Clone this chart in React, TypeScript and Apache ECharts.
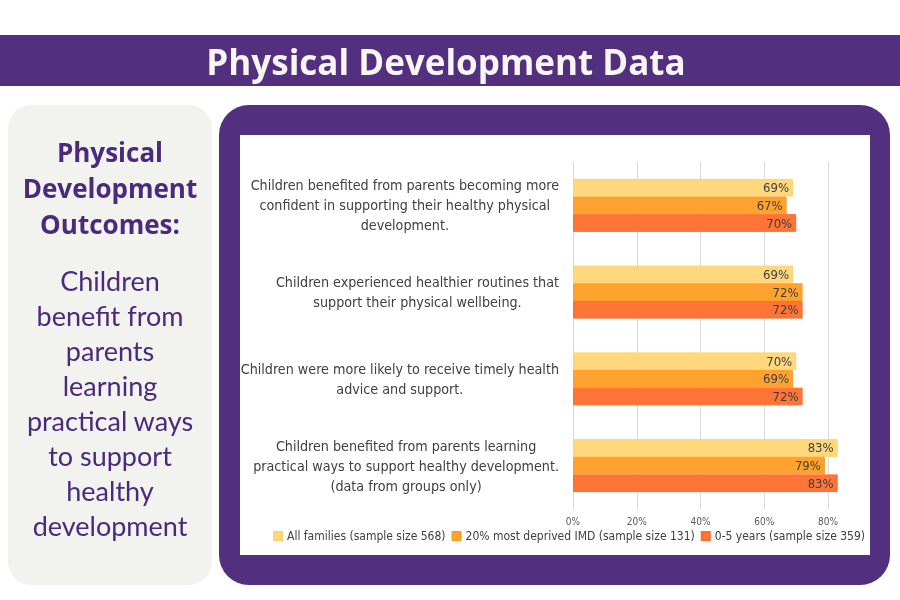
import React, { useEffect, useRef } from "react";
import * as echarts from "echarts";

const titleText = "Physical Development Data";
const sideHeading = ["Physical", "Development", "Outcomes:"];
const sideBody = ["Children", "benefit from", "parents", "learning", "practical ways", "to support", "healthy", "development"];

const categories = [
  "Children benefited from parents becoming more\nconfident in supporting their healthy physical\ndevelopment.",
  "Children experienced healthier routines that\nsupport their physical wellbeing.",
  "Children were more likely to receive timely health\nadvice and support.",
  "Children benefited from parents learning\npractical ways to support healthy development.\n(data from groups only)",
];
const seriesNames = [
  "All families (sample size 568)",
  "20% most deprived IMD (sample size 131)",
  "0-5 years (sample size 359)",
];
const allFamilies = [69, 69, 70, 83];
const mostDeprived = [67, 72, 69, 79];
const zeroToFive = [70, 72, 72, 83];
const seriesColors = ["#FFD87E", "#FFA230", "#FF7437"];
const seriesBorders = ["#FFD36A", "#FF9F24", "#FF6A2A"];

const PURPLE = "#532F80";
const TEXT_PURPLE = "#4A2A7C";
const FONT = "'DejaVu Sans Condensed', 'Roboto', sans-serif";

export default function App() {
  const ref = useRef<HTMLDivElement>(null);
  useEffect(() => {
    document.body.style.margin = "0";
    const chart = echarts.init(ref.current!, null, { renderer: "svg" });
    const seriesData = [allFamilies, mostDeprived, zeroToFive];

    const graphics: any[] = [
      { type: "rect", z: -10, shape: { x: 0, y: 35, width: 900, height: 51 }, style: { fill: PURPLE } },
      {
        type: "text", z: 10,
        style: { text: titleText, x: 446, y: 61, font: "bold 35px 'Open Sans', Lato, sans-serif", fill: "#F8F6F2", textAlign: "center", textVerticalAlign: "middle" },
      },
      { type: "rect", z: -10, shape: { x: 8, y: 105, width: 204, height: 480, r: 23 }, style: { fill: "#F2F2EE" } },
      { type: "rect", z: -10, shape: { x: 219, y: 105, width: 671, height: 480, r: 30 }, style: { fill: PURPLE } },
      { type: "rect", z: -9, shape: { x: 240, y: 135, width: 630, height: 420 }, style: { fill: "#FFFFFF" } },
    ];
    sideHeading.forEach((t, i) => {
      graphics.push({
        type: "text", z: 10,
        style: { text: t, x: 110, y: 152 + i * 36, font: "bold 26px 'Open Sans', Lato, sans-serif", fill: TEXT_PURPLE, textAlign: "center", textVerticalAlign: "middle" },
      });
    });
    sideBody.forEach((t, i) => {
      graphics.push({
        type: "text", z: 10,
        style: { text: t, x: 110, y: 280 + i * 35, font: "27px Lato, 'Open Sans', sans-serif", fill: TEXT_PURPLE, textAlign: "center", textVerticalAlign: "middle" },
      });
    });

    chart.setOption({
      animation: false,
      graphic: graphics,
      grid: { left: 573, right: 40, top: 162, height: 347, containLabel: false },
      legend: {
        data: seriesNames,
        left: 268,
        top: 525,
        width: 620,
        itemWidth: 8,
        itemHeight: 8,
        itemGap: 6,
        icon: "rect",
        textStyle: { fontFamily: FONT, fontSize: 12, color: "#404040" },
      },
      xAxis: {
        type: "value",
        min: 0,
        max: 90,
        interval: 20,
        axisLine: { show: false },
        axisTick: { show: false },
        splitLine: { show: true, showMaxLine: false, lineStyle: { color: "#D9D9D9", width: 1 } },
        axisLabel: { showMaxLabel: false, formatter: (v: number) => `${v}%`, fontFamily: FONT, fontSize: 10, color: "#595959", margin: 7 },
      },
      yAxis: {
        type: "category",
        data: categories,
        inverse: true,
        axisLine: { show: false },
        axisTick: { show: false },
        axisLabel: {
          margin: 14,
          formatter: (v: string) => v.split("\n").map((l) => `{c|${l}}`).join("\n"),
          rich: { c: { align: "center", fontFamily: FONT, fontSize: 14.2, color: "#404040", lineHeight: 20 } },
        },
      },
      series: seriesNames.map((name, i) => ({
        name,
        type: "bar",
        data: seriesData[i],
        barGap: "0%",
        barCategoryGap: "39%",
        itemStyle: { color: seriesColors[i], borderColor: seriesBorders[i], borderWidth: 1 },
        label: {
          show: true,
          position: "insideRight",
          distance: 4,
          formatter: (p: any) => `${p.value}%`,
          fontFamily: FONT,
          fontSize: 13,
          color: "#404040",
        },
      })),
    });
    return () => chart.dispose();
  }, []);
  return <div ref={ref} style={{ position: "fixed", left: 0, top: 0, width: 900, height: 600 }} />;
}
